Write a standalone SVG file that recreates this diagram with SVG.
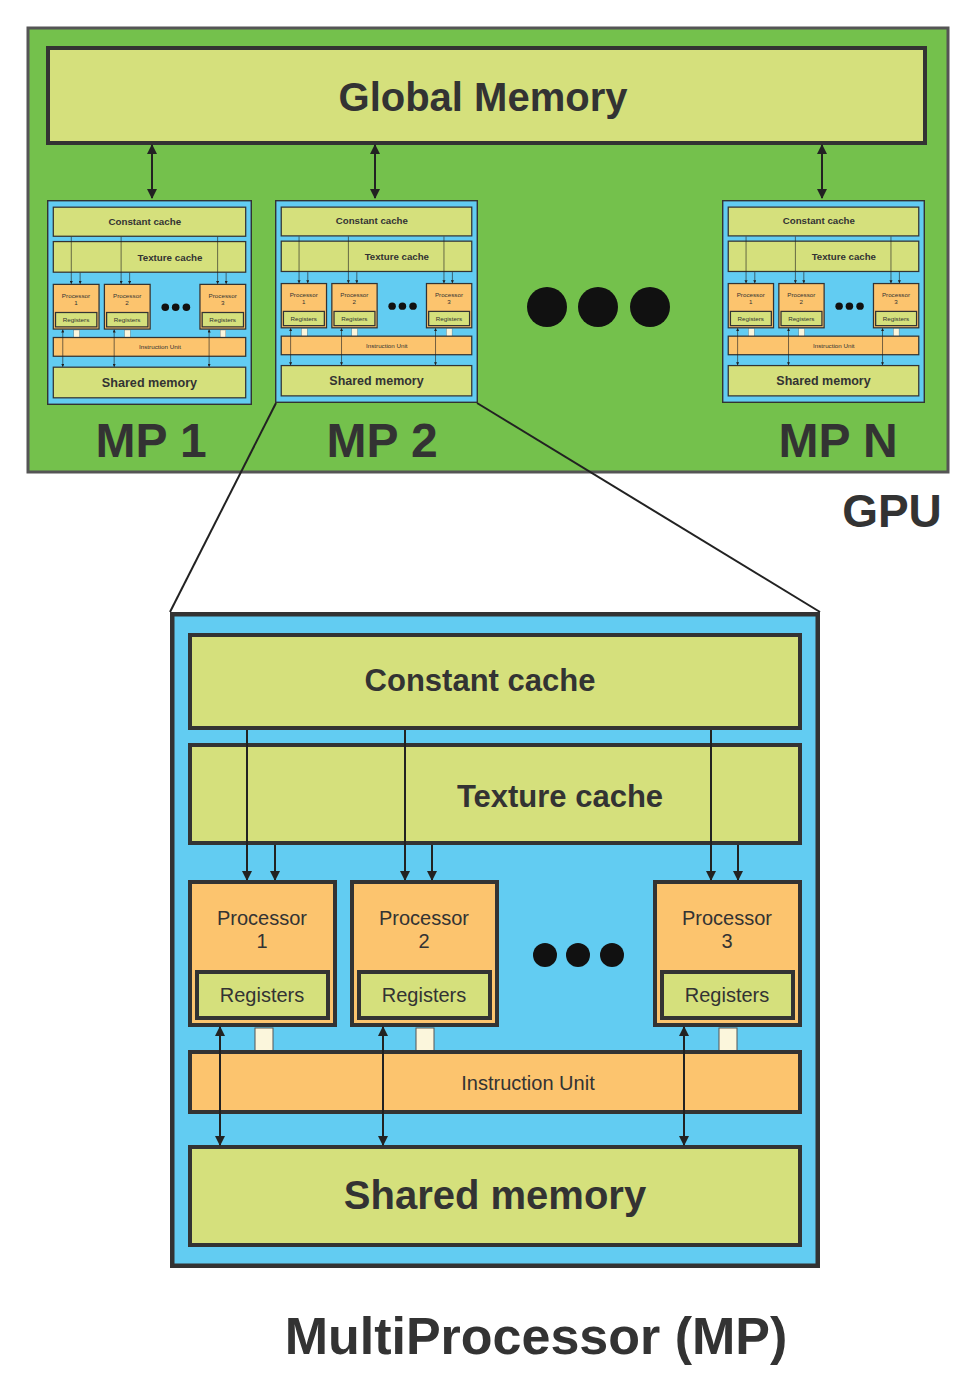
<svg xmlns="http://www.w3.org/2000/svg" xmlns:xlink="http://www.w3.org/1999/xlink" width="979" height="1390" viewBox="0 0 979 1390">
<style>
.y{fill:#d5e07c;stroke:#333;stroke-width:4}
.o{fill:#fcc46e;stroke:#333;stroke-width:4}
.b{fill:#62ccf2;stroke:#333;stroke-width:5}
.ln{stroke:#222;stroke-width:2;fill:none}
.t{font-family:"Liberation Sans",Arial,sans-serif;fill:#333;text-anchor:middle}
</style>
<defs>
<marker id="ah" viewBox="0 0 10 10" refX="9" refY="5" markerWidth="5" markerHeight="5" orient="auto-start-reverse"><path d="M0,0L10,5L0,10z" fill="#222"/></marker>
<symbol id="mp" viewBox="170 612 650 656" preserveAspectRatio="none">
<rect class="b" x="172" y="614" width="646" height="652"/>
<rect class="y" x="190" y="635" width="610" height="93"/>
<text class="t" x="480" y="691" font-size="31" font-weight="bold">Constant cache</text>
<rect class="y" x="190" y="745" width="610" height="98"/>
<text class="t" x="560" y="807" font-size="31" font-weight="bold">Texture cache</text>
<g class="ln" marker-end="url(#ah)">
<line x1="247" y1="730" x2="247" y2="880"/><line x1="275" y1="845" x2="275" y2="880"/>
<line x1="405" y1="730" x2="405" y2="880"/><line x1="432" y1="845" x2="432" y2="880"/>
<line x1="711" y1="730" x2="711" y2="880"/><line x1="738" y1="845" x2="738" y2="880"/>
</g>
<g>
<rect class="o" x="190" y="882" width="145" height="143"/><rect class="y" x="197" y="972" width="131" height="46"/>
<text class="t" x="262" y="925" font-size="20">Processor</text><text class="t" x="262" y="948" font-size="20">1</text>
<text class="t" x="262" y="1002" font-size="20">Registers</text>
<rect class="o" x="352" y="882" width="145" height="143"/><rect class="y" x="359" y="972" width="131" height="46"/>
<text class="t" x="424" y="925" font-size="20">Processor</text><text class="t" x="424" y="948" font-size="20">2</text>
<text class="t" x="424" y="1002" font-size="20">Registers</text>
<rect class="o" x="655" y="882" width="145" height="143"/><rect class="y" x="662" y="972" width="131" height="46"/>
<text class="t" x="727" y="925" font-size="20">Processor</text><text class="t" x="727" y="948" font-size="20">3</text>
<text class="t" x="727" y="1002" font-size="20">Registers</text>
</g>
<circle cx="545" cy="955" r="12" fill="#111"/><circle cx="578" cy="955" r="12" fill="#111"/><circle cx="612" cy="955" r="12" fill="#111"/>
<rect x="255" y="1028" width="18" height="24" fill="#fbf6dc" stroke="#555"/>
<rect x="416" y="1028" width="18" height="24" fill="#fbf6dc" stroke="#555"/>
<rect x="719" y="1028" width="18" height="24" fill="#fbf6dc" stroke="#555"/>
<rect class="o" x="190" y="1052" width="610" height="60"/>
<text class="t" x="528" y="1090" font-size="20">Instruction Unit</text>
<rect class="y" x="190" y="1147" width="610" height="98"/>
<text class="t" x="495" y="1209" font-size="40" font-weight="bold">Shared memory</text>
<g class="ln" marker-start="url(#ah)" marker-end="url(#ah)">
<line x1="220" y1="1027" x2="220" y2="1145"/>
<line x1="383" y1="1027" x2="383" y2="1145"/>
<line x1="684" y1="1027" x2="684" y2="1145"/>
</g>
</symbol>
</defs>
<rect x="0" y="0" width="979" height="1390" fill="#fff"/>
<g id="gpu">
<rect x="28" y="28" width="920" height="444" fill="#74c14c" stroke="#555" stroke-width="3"/>
<text class="t" x="892" y="527" font-size="46" font-weight="bold">GPU</text>
</g>
<g id="global-memory">
<rect class="y" x="48" y="48" width="877" height="95"/>
<text class="t" x="483" y="111" font-size="40" font-weight="bold">Global Memory</text>
</g>
<g id="connectors">
<g class="ln" marker-start="url(#ah)" marker-end="url(#ah)">
<line x1="152" y1="145" x2="152" y2="198"/>
<line x1="375" y1="145" x2="375" y2="198"/>
<line x1="822" y1="145" x2="822" y2="198"/>
</g>
<line class="ln" x1="276" y1="403" x2="170" y2="612" stroke-width="3"/>
<line class="ln" x1="477" y1="403" x2="820" y2="612" stroke-width="3"/>
</g>
<g id="mp1"><use xlink:href="#mp" href="#mp" x="47" y="200" width="205" height="205"/>
<text class="t" x="151" y="457" font-size="48" font-weight="bold">MP 1</text></g>
<g id="mp2"><use xlink:href="#mp" href="#mp" x="275" y="200" width="203" height="203"/>
<text class="t" x="382" y="457" font-size="48" font-weight="bold">MP 2</text></g>
<g id="mpn"><use xlink:href="#mp" href="#mp" x="722" y="200" width="203" height="203"/>
<text class="t" x="838" y="457" font-size="48" font-weight="bold">MP N</text></g>
<g id="dots"><circle cx="547" cy="307" r="20" fill="#111"/><circle cx="598" cy="307" r="20" fill="#111"/><circle cx="650" cy="307" r="20" fill="#111"/></g>
<g id="mp-detail"><use xlink:href="#mp" href="#mp" x="170" y="612" width="650" height="656"/>
<text class="t" x="536" y="1354" font-size="52" font-weight="bold">MultiProcessor (MP)</text></g>
</svg>
